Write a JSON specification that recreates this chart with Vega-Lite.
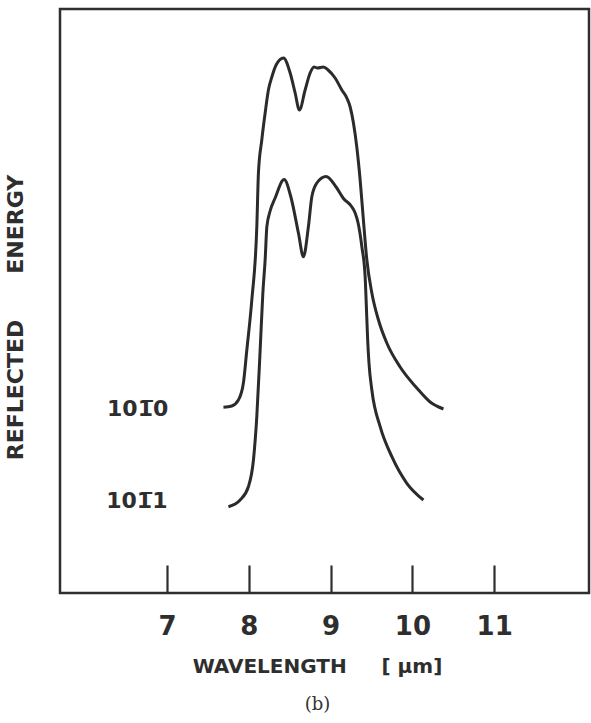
{
  "$schema": "https://vega.github.io/schema/vega-lite/v6.json",
  "autosize": {"type": "none"},
  "padding": {"left": 60, "top": 9, "right": 2, "bottom": 130},
  "width": 529,
  "height": 584,
  "background": "white",
  "config": {
    "view": {"stroke": "#2e2e2e", "strokeWidth": 2.5},
    "font": "DejaVu Sans"
  },
  "title": {
    "text": "(b)",
    "orient": "bottom",
    "font": "DejaVu Serif",
    "fontSize": 18,
    "fontWeight": "normal",
    "color": "#333",
    "offset": 20,
    "dx": -7
  },
  "datasets": {
    "curves": [
      {"series": "1010", "wl": 7.689, "e": 185.7},
      {"series": "1010", "wl": 7.791, "e": 187},
      {"series": "1010", "wl": 7.872, "e": 193},
      {"series": "1010", "wl": 7.933, "e": 210},
      {"series": "1010", "wl": 7.975, "e": 243},
      {"series": "1010", "wl": 8.036, "e": 293},
      {"series": "1010", "wl": 8.097, "e": 366},
      {"series": "1010", "wl": 8.117, "e": 420},
      {"series": "1010", "wl": 8.158, "e": 453},
      {"series": "1010", "wl": 8.199, "e": 480},
      {"series": "1010", "wl": 8.239, "e": 503},
      {"series": "1010", "wl": 8.281, "e": 516},
      {"series": "1010", "wl": 8.333, "e": 528},
      {"series": "1010", "wl": 8.423, "e": 535},
      {"series": "1010", "wl": 8.505, "e": 520},
      {"series": "1010", "wl": 8.566, "e": 500},
      {"series": "1010", "wl": 8.618, "e": 483},
      {"series": "1010", "wl": 8.688, "e": 503},
      {"series": "1010", "wl": 8.749, "e": 520},
      {"series": "1010", "wl": 8.798, "e": 526},
      {"series": "1010", "wl": 8.839, "e": 525},
      {"series": "1010", "wl": 8.912, "e": 526},
      {"series": "1010", "wl": 8.969, "e": 523},
      {"series": "1010", "wl": 9.055, "e": 515},
      {"series": "1010", "wl": 9.137, "e": 503},
      {"series": "1010", "wl": 9.198, "e": 495},
      {"series": "1010", "wl": 9.239, "e": 486},
      {"series": "1010", "wl": 9.279, "e": 470},
      {"series": "1010", "wl": 9.32, "e": 446},
      {"series": "1010", "wl": 9.361, "e": 413},
      {"series": "1010", "wl": 9.394, "e": 380},
      {"series": "1010", "wl": 9.443, "e": 333},
      {"series": "1010", "wl": 9.504, "e": 300},
      {"series": "1010", "wl": 9.585, "e": 273},
      {"series": "1010", "wl": 9.687, "e": 250},
      {"series": "1010", "wl": 9.85, "e": 226},
      {"series": "1010", "wl": 10.054, "e": 205},
      {"series": "1010", "wl": 10.217, "e": 191},
      {"series": "1010", "wl": 10.38, "e": 184},
      {"series": "1011", "wl": 7.75, "e": 86.3},
      {"series": "1011", "wl": 7.893, "e": 93},
      {"series": "1011", "wl": 7.994, "e": 106.3},
      {"series": "1011", "wl": 8.056, "e": 133},
      {"series": "1011", "wl": 8.097, "e": 176.3},
      {"series": "1011", "wl": 8.138, "e": 243},
      {"series": "1011", "wl": 8.171, "e": 300},
      {"series": "1011", "wl": 8.199, "e": 333},
      {"series": "1011", "wl": 8.22, "e": 366.3},
      {"series": "1011", "wl": 8.26, "e": 382},
      {"series": "1011", "wl": 8.321, "e": 395},
      {"series": "1011", "wl": 8.431, "e": 413.5},
      {"series": "1011", "wl": 8.517, "e": 395},
      {"series": "1011", "wl": 8.606, "e": 360},
      {"series": "1011", "wl": 8.667, "e": 336.3},
      {"series": "1011", "wl": 8.728, "e": 366.3},
      {"series": "1011", "wl": 8.77, "e": 396.3},
      {"series": "1011", "wl": 8.831, "e": 410},
      {"series": "1011", "wl": 8.945, "e": 416.5},
      {"series": "1011", "wl": 9.067, "e": 406},
      {"series": "1011", "wl": 9.157, "e": 394.5},
      {"series": "1011", "wl": 9.251, "e": 387},
      {"series": "1011", "wl": 9.3, "e": 380},
      {"series": "1011", "wl": 9.336, "e": 370},
      {"series": "1011", "wl": 9.382, "e": 346.3},
      {"series": "1011", "wl": 9.422, "e": 316.3},
      {"series": "1011", "wl": 9.434, "e": 293},
      {"series": "1011", "wl": 9.453, "e": 253},
      {"series": "1011", "wl": 9.469, "e": 230},
      {"series": "1011", "wl": 9.504, "e": 203},
      {"series": "1011", "wl": 9.606, "e": 166.3},
      {"series": "1011", "wl": 9.749, "e": 136.3},
      {"series": "1011", "wl": 9.932, "e": 109.7},
      {"series": "1011", "wl": 10.135, "e": 93}
    ],
    "labels": [
      {"label": "101̅0", "wl": 6.64, "e": 184},
      {"label": "101̅1", "wl": 6.63, "e": 92}
    ]
  },
  "layer": [
    {
      "data": {"name": "curves"},
      "mark": {"type": "line", "interpolate": "monotone", "color": "#2b2b2b", "strokeWidth": 3},
      "encoding": {
        "x": {
          "field": "wl",
          "type": "quantitative",
          "scale": {"domain": [5.69, 12.16], "nice": false, "zero": false},
          "axis": {
            "values": [7, 8, 9, 10, 11],
            "format": "d",
            "domain": false,
            "grid": false,
            "tickSize": -28,
            "tickWidth": 2.2,
            "tickColor": "#2e2e2e",
            "labelFontSize": 26,
            "labelFontWeight": "bold",
            "labelColor": "#2e2e2e",
            "labelPadding": 48,
            "title": "WAVELENGTH\u00a0\u00a0\u00a0\u00a0\u00a0[\u00a0μm]",
            "titleFontSize": 20,
            "titleFontWeight": "bold",
            "titleColor": "#2e2e2e",
            "titleX": 257,
            "titleY": 79,
            "titleBaseline": "alphabetic"
          }
        },
        "y": {
          "field": "e",
          "type": "quantitative",
          "scale": {"domain": [0, 584], "nice": false},
          "axis": {
            "domain": false,
            "grid": false,
            "ticks": false,
            "labels": false,
            "title": "REFLECTED\u00a0\u00a0\u00a0\u00a0\u00a0\u00a0ENERGY",
            "titleFontSize": 22,
            "titleFontWeight": "bold",
            "titleColor": "#2e2e2e",
            "titleX": -33,
            "titleY": 308
          }
        },
        "detail": {"field": "series"}
      }
    },
    {
      "data": {"name": "labels"},
      "mark": {"type": "text", "fontSize": 22, "fontWeight": "bold", "color": "#2e2e2e", "align": "center", "baseline": "middle"},
      "encoding": {
        "x": {"field": "wl", "type": "quantitative"},
        "y": {"field": "e", "type": "quantitative"},
        "text": {"field": "label"}
      }
    }
  ]
}
